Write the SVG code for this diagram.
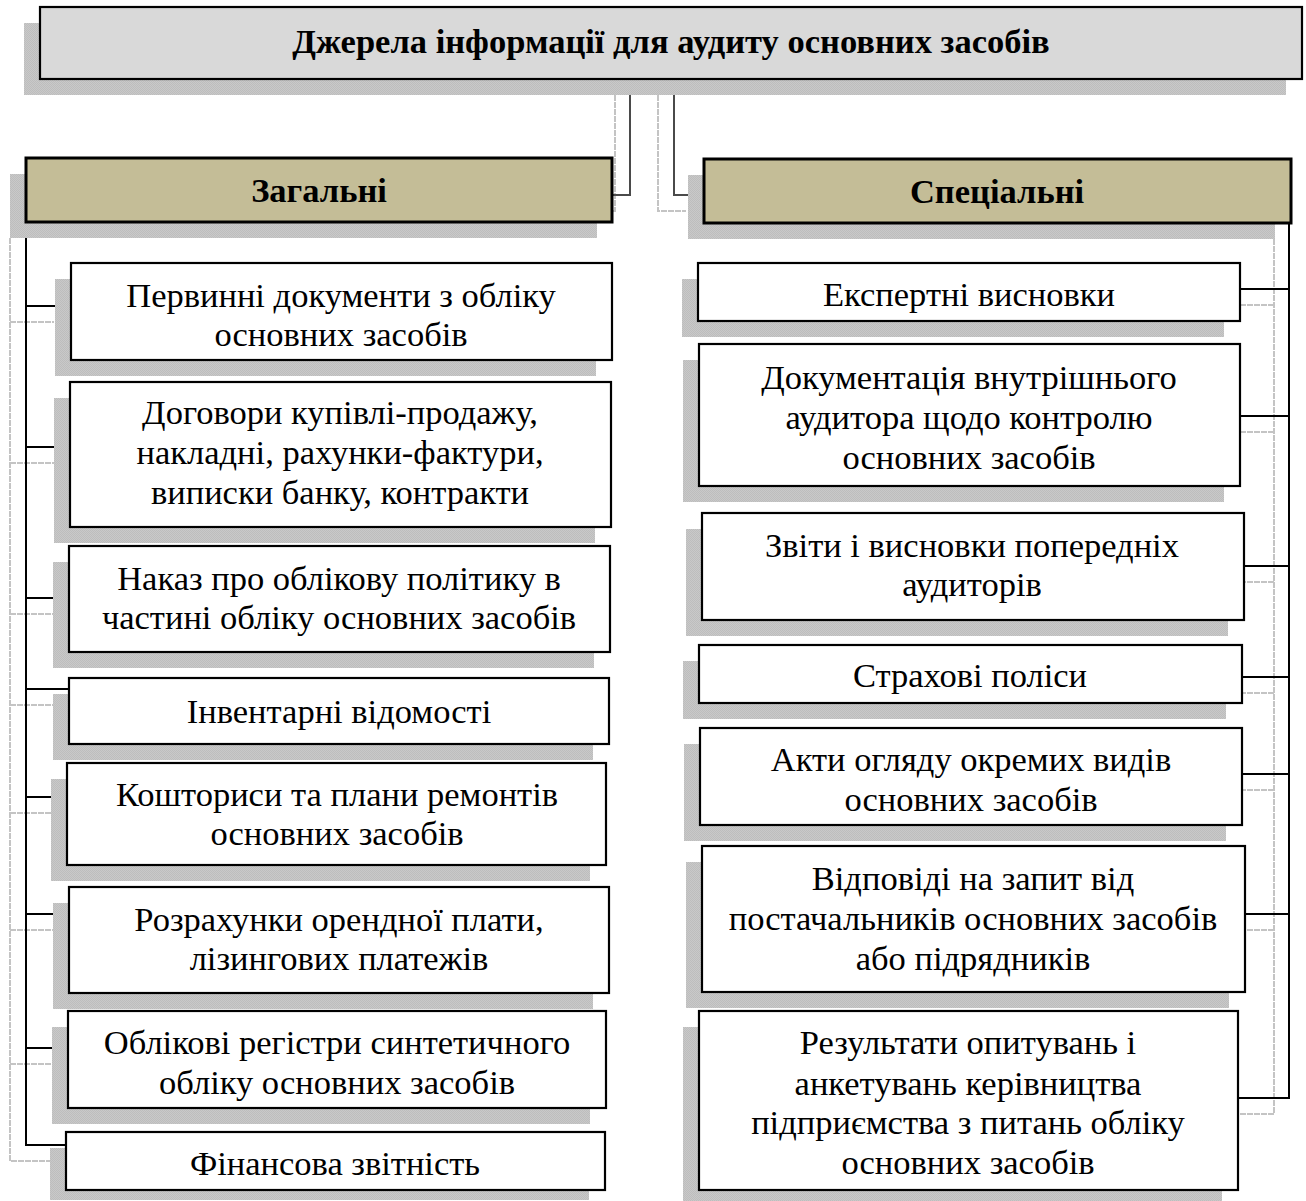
<svg xmlns="http://www.w3.org/2000/svg" width="1306" height="1201" viewBox="0 0 1306 1201">
<defs>
<pattern id="chk" width="2" height="2" patternUnits="userSpaceOnUse">
<rect width="2" height="2" fill="#c9c9c9"/>
<rect width="1" height="1" fill="#bdbdbd"/>
<rect x="1" y="1" width="1" height="1" fill="#bdbdbd"/>
</pattern>
</defs>
<style>
.sh{fill:url(#chk);}
.bx{fill:#ffffff;stroke:#000;stroke-width:2.2;}
.ti{fill:#d9d9d9;stroke:#000;stroke-width:2.2;}
.hd{fill:#c4bd97;stroke:#000;stroke-width:3;}
.t{font-family:"Liberation Serif","Times New Roman",serif;font-size:34.5px;fill:#000;text-anchor:middle;}
.b{font-weight:bold;}
.ln{fill:none;stroke:#000;stroke-width:2;}
.lg{fill:none;stroke:#4a4a4a;stroke-width:2;}
.sl{fill:none;stroke:#c4c4c4;stroke-width:2;stroke-dasharray:6 1;}
</style>
<g id="connectors">
<path class="sl" d="M615 95 V211 H596"/>
<path class="sl" d="M658 95 V211 H686"/>
<path class="sl" d="M10 238 V1161 H50"/>
<path class="sl" d="M10 322 H54 M10 463 H54 M10 614 H54 M10 705 H54 M10 813 H52 M10 930 H54 M10 1064 H52"/>
<path class="sl" d="M1274 239 V1114 H1224"/>
<path class="sl" d="M1274 305 H1224 M1274 432 H1224 M1274 582 H1228 M1274 693 H1226 M1274 790 H1226 M1274 930 H1229"/>
<path class="lg" d="M630 79 V195 H612"/>
<path class="lg" d="M674 79 V195 H704"/>
<path class="ln" d="M26 222 V1145 H66"/>
<path class="ln" d="M26 306 H71 M26 447 H70 M26 598 H69 M26 689 H69 M26 797 H67 M26 914 H69 M26 1048 H68"/>
<path class="ln" d="M1289 223 V1098 H1238"/>
<path class="ln" d="M1289 289 H1240 M1289 416 H1240 M1289 566 H1244 M1289 677 H1242 M1289 774 H1242 M1289 914 H1245"/>
</g>
<g id="title">
<rect class="sh" x="24" y="23" width="1262" height="72"/>
<rect class="ti" x="40" y="7" width="1262" height="72"/>
<text class="t b" x="671" y="53">Джерела інформації для аудиту основних засобів</text>
</g>
<g id="general">
<rect class="sh" x="10" y="174" width="587" height="64"/>
<rect class="hd" x="26" y="158" width="586" height="64"/>
<text class="t b" x="319" y="202">Загальні</text>
</g>
<g id="special">
<rect class="sh" x="688" y="175" width="587" height="64"/>
<rect class="hd" x="704" y="159" width="587" height="64"/>
<text class="t b" x="997" y="203">Спеціальні</text>
</g>
<g id="l1">
<rect class="sh" x="55" y="279" width="541" height="97"/>
<rect class="bx" x="71" y="263" width="541" height="97"/>
<text class="t" x="341" y="307">Первинні документи з обліку</text>
<text class="t" x="341" y="346">основних засобів</text>
</g>
<g id="l2">
<rect class="sh" x="54" y="398" width="541" height="145"/>
<rect class="bx" x="70" y="382" width="541" height="145"/>
<text class="t" x="340" y="424">Договори купівлі-продажу,</text>
<text class="t" x="340" y="464">накладні, рахунки-фактури,</text>
<text class="t" x="340" y="504">виписки банку, контракти</text>
</g>
<g id="l3">
<rect class="sh" x="53" y="562" width="541" height="106"/>
<rect class="bx" x="69" y="546" width="541" height="106"/>
<text class="t" x="339" y="590">Наказ про облікову політику в</text>
<text class="t" x="339" y="629">частині обліку основних засобів</text>
</g>
<g id="l4">
<rect class="sh" x="53" y="694" width="540" height="66"/>
<rect class="bx" x="69" y="678" width="540" height="66"/>
<text class="t" x="339" y="723">Інвентарні відомості</text>
</g>
<g id="l5">
<rect class="sh" x="51" y="779" width="539" height="102"/>
<rect class="bx" x="67" y="763" width="539" height="102"/>
<text class="t" x="337" y="806">Кошториси та плани ремонтів</text>
<text class="t" x="337" y="845">основних засобів</text>
</g>
<g id="l6">
<rect class="sh" x="53" y="903" width="540" height="106"/>
<rect class="bx" x="69" y="887" width="540" height="106"/>
<text class="t" x="339" y="931">Розрахунки орендної плати,</text>
<text class="t" x="339" y="970">лізингових платежів</text>
</g>
<g id="l7">
<rect class="sh" x="52" y="1027" width="538" height="97"/>
<rect class="bx" x="68" y="1011" width="538" height="97"/>
<text class="t" x="337" y="1054">Облікові регістри синтетичного</text>
<text class="t" x="337" y="1094">обліку основних засобів</text>
</g>
<g id="l8">
<rect class="sh" x="50" y="1148" width="539" height="52"/>
<rect class="bx" x="66" y="1132" width="539" height="58"/>
<text class="t" x="335" y="1175">Фінансова звітність</text>
</g>
<g id="r1">
<rect class="sh" x="682" y="279" width="542" height="58"/>
<rect class="bx" x="698" y="263" width="542" height="58"/>
<text class="t" x="969" y="306">Експертні висновки</text>
</g>
<g id="r2">
<rect class="sh" x="683" y="360" width="541" height="142"/>
<rect class="bx" x="699" y="344" width="541" height="142"/>
<text class="t" x="969" y="389">Документація внутрішнього</text>
<text class="t" x="969" y="429">аудитора щодо контролю</text>
<text class="t" x="969" y="469">основних засобів</text>
</g>
<g id="r3">
<rect class="sh" x="686" y="529" width="542" height="107"/>
<rect class="bx" x="702" y="513" width="542" height="107"/>
<text class="t" x="972" y="557">Звіти і висновки попередніх</text>
<text class="t" x="972" y="596">аудиторів</text>
</g>
<g id="r4">
<rect class="sh" x="683" y="661" width="543" height="58"/>
<rect class="bx" x="699" y="645" width="543" height="58"/>
<text class="t" x="970" y="687">Страхові поліси</text>
</g>
<g id="r5">
<rect class="sh" x="684" y="744" width="542" height="97"/>
<rect class="bx" x="700" y="728" width="542" height="97"/>
<text class="t" x="971" y="771">Акти огляду окремих видів</text>
<text class="t" x="971" y="811">основних засобів</text>
</g>
<g id="r6">
<rect class="sh" x="686" y="862" width="543" height="146"/>
<rect class="bx" x="702" y="846" width="543" height="146"/>
<text class="t" x="973" y="890">Відповіді на запит від</text>
<text class="t" x="973" y="930">постачальників основних засобів</text>
<text class="t" x="973" y="970">або підрядників</text>
</g>
<g id="r7">
<rect class="sh" x="683" y="1027" width="539" height="174"/>
<rect class="bx" x="699" y="1011" width="539" height="179"/>
<text class="t" x="968" y="1054">Результати опитувань і</text>
<text class="t" x="968" y="1095">анкетувань керівництва</text>
<text class="t" x="968" y="1134">підприємства з питань обліку</text>
<text class="t" x="968" y="1174">основних засобів</text>
</g>
</svg>
